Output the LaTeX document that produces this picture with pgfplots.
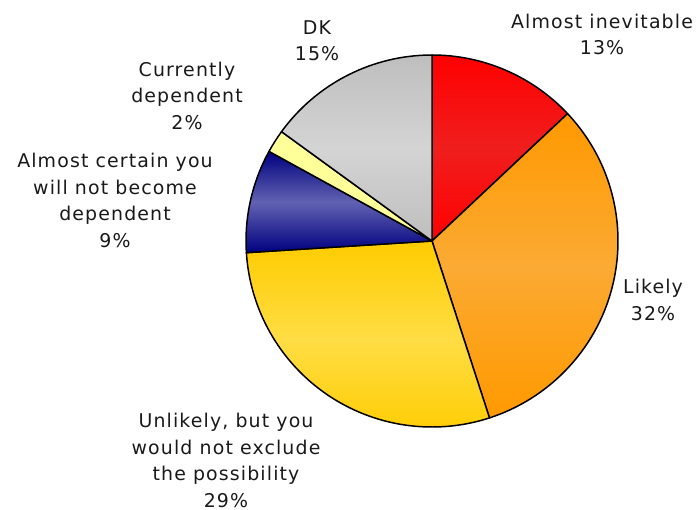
\documentclass[border=0pt]{standalone}
\usepackage{fontspec}
\setmainfont{DejaVu Sans}[LetterSpace=6]
\usepackage{pgfplots}
\pgfplotsset{compat=1.18}

\definecolor{redT}{HTML}{FF0000}
\definecolor{redM}{HTML}{F01E1E}
\definecolor{orgT}{HTML}{FF9900}
\definecolor{orgM}{HTML}{FBAA33}
\definecolor{yelT}{HTML}{FFCC00}
\definecolor{yelM}{HTML}{FFDD44}
\definecolor{bluT}{HTML}{000080}
\definecolor{bluM}{HTML}{6262B2}
\definecolor{lyeT}{HTML}{FFFF99}
\definecolor{gryT}{HTML}{BEBEBE}
\definecolor{gryM}{HTML}{D4D4D4}

\begin{document}
\begin{tikzpicture}
\begin{axis}[
    width=697bp, height=510bp, scale only axis,
    xmin=0, xmax=697, ymin=0, ymax=510,
    hide axis, clip=false,
]
% shares in percent, clockwise from 12 o'clock
\gdef\cum{0}
\foreach \v/\t/\m in {13/redT/redM, 32/orgT/orgM, 29/yelT/yelM, 9/bluT/bluM, 2/lyeT/lyeT, 15/gryT/gryM}{
    \pgfmathsetmacro\a{90-3.6*\cum}
    \pgfmathsetmacro\b{90-3.6*(\cum+\v)}
    \edef\temp{\noexpand\draw[line width=1.5pt, line join=round, top color=\t, bottom color=\t, middle color=\m]
        (axis cs:432,269) -- ++(\a:186bp) arc[start angle=\a, end angle=\b, radius=186bp] -- cycle;}
    \temp
    \pgfmathsetmacro\n{\cum+\v}
    \xdef\cum{\n}
}

% anchor=base sits on the last line
\tikzset{lab/.style={anchor=base, inner sep=0pt, align=center,
    font=\fontsize{19}{26.5}\selectfont, text=black!90}}
\node[lab] at (axis cs:602,455) {Almost inevitable\\13\%};
\node[lab] at (axis cs:653,190) {Likely\\32\%};
\node[lab] at (axis cs:226,3) {Unlikely, but you\\would not exclude\\the possibility\\29\%};
\node[lab] at (axis cs:115,263) {Almost certain you\\will not become\\dependent\\9\%};
\node[lab] at (axis cs:187,381) {Currently\\dependent\\2\%};
\node[lab] at (axis cs:317,449) {DK\\15\%};
\end{axis}
\pgfresetboundingbox
\path (0,0) rectangle (697bp,510bp);
\end{tikzpicture}
\end{document}
